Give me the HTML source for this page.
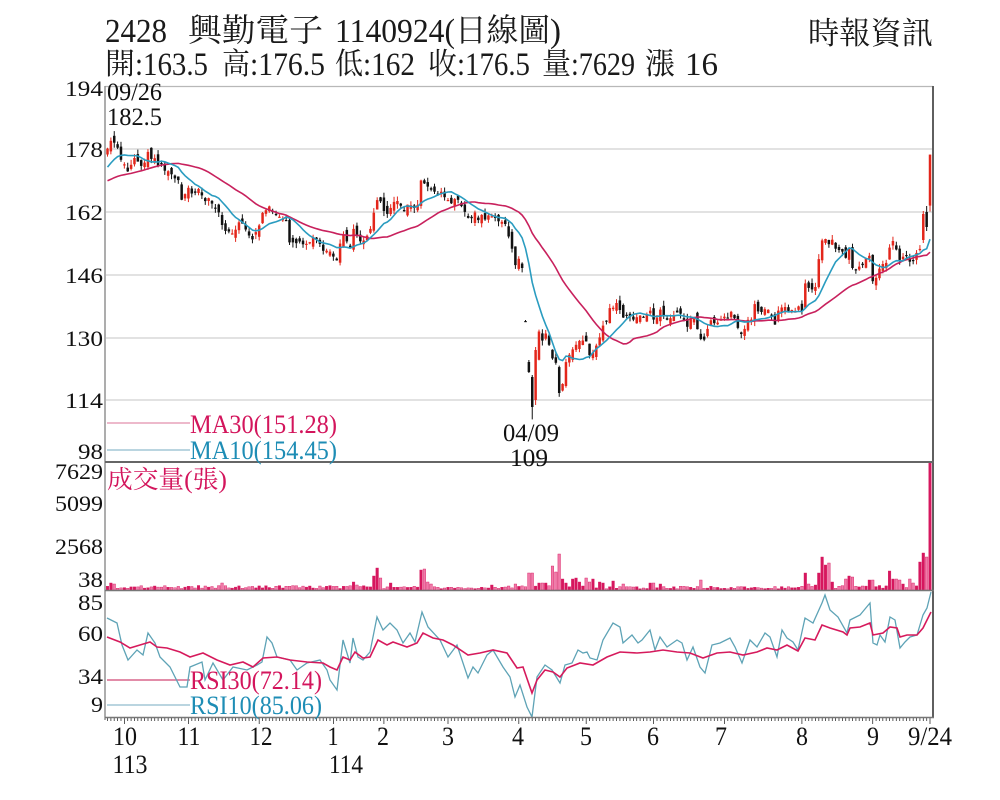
<!DOCTYPE html>
<html>
<head>
<meta charset="utf-8">
<style>
html,body{margin:0;padding:0;background:#fff;}
svg{display:block;}
text{font-family:"Liberation Serif","Noto Serif CJK SC","Noto Sans CJK TC",serif;white-space:pre;}
.cjk{font-family:"Noto Serif CJK SC","Noto Sans CJK TC",serif;}
</style>
</head>
<body>
<svg id="c" width="1000" height="800" viewBox="0 0 1000 800" xmlns="http://www.w3.org/2000/svg">
<rect width="1000" height="800" fill="#fff"/>

<!-- header -->
<g fill="#1a1a1a">
<text x="105" y="42" font-size="34" textLength="62" lengthAdjust="spacingAndGlyphs">2428</text>
<text class="cjk" x="188" y="41" font-size="32" textLength="135" lengthAdjust="spacingAndGlyphs">興勤電子</text>
<text x="335" y="42" font-size="34" textLength="120" lengthAdjust="spacingAndGlyphs">1140924(</text>
<text class="cjk" x="455" y="41" font-size="32" textLength="95" lengthAdjust="spacingAndGlyphs">日線圖</text>
<text x="550" y="42" font-size="34" textLength="11" lengthAdjust="spacingAndGlyphs">)</text>

<text class="cjk" x="105" y="74" font-size="30" textLength="30" lengthAdjust="spacingAndGlyphs">開</text>
<text x="135" y="75" font-size="33" textLength="73" lengthAdjust="spacingAndGlyphs">:163.5</text>
<text class="cjk" x="222" y="74" font-size="30" textLength="28" lengthAdjust="spacingAndGlyphs">高</text>
<text x="250" y="75" font-size="33" textLength="75" lengthAdjust="spacingAndGlyphs">:176.5</text>
<text class="cjk" x="335" y="74" font-size="30" textLength="28" lengthAdjust="spacingAndGlyphs">低</text>
<text x="363" y="75" font-size="33" textLength="52" lengthAdjust="spacingAndGlyphs">:162</text>
<text class="cjk" x="428" y="74" font-size="30" textLength="29" lengthAdjust="spacingAndGlyphs">收</text>
<text x="457" y="75" font-size="33" textLength="73" lengthAdjust="spacingAndGlyphs">:176.5</text>
<text class="cjk" x="542" y="74" font-size="30" textLength="29" lengthAdjust="spacingAndGlyphs">量</text>
<text x="571" y="75" font-size="33" textLength="64" lengthAdjust="spacingAndGlyphs">:7629</text>
<text class="cjk" x="645" y="74" font-size="30" textLength="30" lengthAdjust="spacingAndGlyphs">漲</text>
<text x="685" y="75" font-size="33" textLength="33" lengthAdjust="spacingAndGlyphs">16</text>

<text class="cjk" x="808" y="44" font-size="31" textLength="125" lengthAdjust="spacingAndGlyphs">時報資訊</text>
</g>

<!-- price grid -->
<g stroke="#d0d0d0" stroke-width="1.3">
<line x1="105" y1="86.5" x2="933" y2="86.5" stroke="#b8b8b8"/>
<line x1="106" y1="149" x2="932" y2="149"/>
<line x1="106" y1="212" x2="932" y2="212"/>
<line x1="106" y1="275" x2="932" y2="275"/>
<line x1="106" y1="338" x2="932" y2="338"/>
<line x1="106" y1="400" x2="932" y2="400"/>
</g>

<!-- legend lines -->
<line x1="107" y1="423" x2="190" y2="423" stroke="#e7a2ba" stroke-width="1.6"/>
<line x1="107" y1="450" x2="190" y2="450" stroke="#a3c7d5" stroke-width="1.6"/>
<line x1="107" y1="680" x2="190" y2="680" stroke="#d9668c" stroke-width="1.6"/>
<line x1="107" y1="705" x2="190" y2="705" stroke="#a3c7d5" stroke-width="1.6"/>

<g id="vol"></g>
<g id="rsi"></g>
<g id="cand"></g>
<g id="ma"></g>
<g id="ticks"></g>

<!-- frame -->
<line x1="105" y1="86" x2="105" y2="720" stroke="#8a8a8a" stroke-width="1.4"/>
<line x1="933" y1="86" x2="933" y2="718" stroke="#5f5f5f" stroke-width="2"/>
<line x1="105" y1="462" x2="934" y2="462" stroke="#666" stroke-width="2"/>
<line x1="105" y1="590.5" x2="934" y2="590.5" stroke="#777" stroke-width="1.5"/>
<line x1="105" y1="717.5" x2="934" y2="717.5" stroke="#777" stroke-width="1.5"/>

<!-- legend texts -->
<text x="190" y="433" font-size="26" fill="#d3155c" textLength="147" lengthAdjust="spacingAndGlyphs">MA30(151.28)</text>
<text x="190" y="459" font-size="26" fill="#1e8db5" textLength="147" lengthAdjust="spacingAndGlyphs">MA10(154.45)</text>
<text x="107" y="488" font-size="25" fill="#d3155c" textLength="120" lengthAdjust="spacingAndGlyphs">成交量(張)</text>
<text x="190" y="689" font-size="26" fill="#d3155c" textLength="132" lengthAdjust="spacingAndGlyphs">RSI30(72.14)</text>
<text x="190" y="714" font-size="26" fill="#1e8db5" textLength="132" lengthAdjust="spacingAndGlyphs">RSI10(85.06)</text>

<!-- y axis labels -->
<g fill="#111" font-size="22" text-anchor="end">
<text x="103" y="96" textLength="38" lengthAdjust="spacingAndGlyphs">194</text>
<text x="103" y="157" textLength="38" lengthAdjust="spacingAndGlyphs">178</text>
<text x="103" y="220" textLength="38" lengthAdjust="spacingAndGlyphs">162</text>
<text x="103" y="283" textLength="38" lengthAdjust="spacingAndGlyphs">146</text>
<text x="103" y="346" textLength="38" lengthAdjust="spacingAndGlyphs">130</text>
<text x="103" y="408" textLength="38" lengthAdjust="spacingAndGlyphs">114</text>
<text x="103" y="459" textLength="25" lengthAdjust="spacingAndGlyphs">98</text>
<text x="103" y="479" textLength="48" lengthAdjust="spacingAndGlyphs">7629</text>
<text x="103" y="511" textLength="48" lengthAdjust="spacingAndGlyphs">5099</text>
<text x="103" y="554" textLength="48" lengthAdjust="spacingAndGlyphs">2568</text>
<text x="103" y="587" textLength="25" lengthAdjust="spacingAndGlyphs">38</text>
<text x="103" y="610" textLength="25" lengthAdjust="spacingAndGlyphs">85</text>
<text x="103" y="641" textLength="25" lengthAdjust="spacingAndGlyphs">60</text>
<text x="103" y="684" textLength="25" lengthAdjust="spacingAndGlyphs">34</text>
<text x="103" y="712" textLength="12" lengthAdjust="spacingAndGlyphs">9</text>
</g>

<!-- x axis labels -->
<g fill="#111" font-size="26" text-anchor="middle">
<text x="125" y="745" textLength="24" lengthAdjust="spacingAndGlyphs">10</text>
<text x="189" y="745" textLength="23" lengthAdjust="spacingAndGlyphs">11</text>
<text x="261" y="745" textLength="23" lengthAdjust="spacingAndGlyphs">12</text>
<text x="333" y="745" textLength="11" lengthAdjust="spacingAndGlyphs">1</text>
<text x="383" y="745" textLength="12" lengthAdjust="spacingAndGlyphs">2</text>
<text x="448" y="745" textLength="12" lengthAdjust="spacingAndGlyphs">3</text>
<text x="518" y="745" textLength="12" lengthAdjust="spacingAndGlyphs">4</text>
<text x="586" y="745" textLength="12" lengthAdjust="spacingAndGlyphs">5</text>
<text x="653" y="745" textLength="12" lengthAdjust="spacingAndGlyphs">6</text>
<text x="721" y="745" textLength="12" lengthAdjust="spacingAndGlyphs">7</text>
<text x="802" y="745" textLength="12" lengthAdjust="spacingAndGlyphs">8</text>
<text x="873" y="745" textLength="12" lengthAdjust="spacingAndGlyphs">9</text>
<text x="930" y="745" textLength="44" lengthAdjust="spacingAndGlyphs">9/24</text>
<text x="130" y="773" textLength="35" lengthAdjust="spacingAndGlyphs">113</text>
<text x="346" y="773" textLength="34" lengthAdjust="spacingAndGlyphs">114</text>
</g>

<!-- annotations -->
<g fill="#111" font-size="25">
<text x="107" y="100" textLength="55" lengthAdjust="spacingAndGlyphs">09/26</text>
<text x="107" y="125" textLength="55" lengthAdjust="spacingAndGlyphs">182.5</text>
<text x="531" y="441" text-anchor="middle" textLength="56" lengthAdjust="spacingAndGlyphs">04/09</text>
<text x="529" y="466" text-anchor="middle" textLength="38" lengthAdjust="spacingAndGlyphs">109</text>
</g>
</svg>

<script>
(function(){
var NS="http://www.w3.org/2000/svg";
var N=245;
function X(i){return 107.5+i*3.371;}
function PY(p){return 86+(194-p)*3.922;}
function YP(y){return 194-(y-86)/3.922;}
function el(tag,attrs,parent){var e=document.createElementNS(NS,tag);for(var k in attrs)e.setAttribute(k,attrs[k]);parent.appendChild(e);return e;}
var s=246813579;
function R(){s^=s<<13;s^=s>>>17;s^=s<<5;return ((s>>>0)%100000)/100000;}
function interp(arr,x){
  if(x<=arr[0][0])return arr[0][1];
  for(var k=1;k<arr.length;k++){if(x<=arr[k][0]){var a=arr[k-1],b=arr[k];return a[1]+(b[1]-a[1])*(x-a[0])/(b[0]-a[0]);}}
  return arr[arr.length-1][1];
}
var K=[[107,150],[111,140],[114,142],[117,145],[121,160],[124,162],[127,170],[130,168],[134,158],[137,162],[141,168],[144,165],[148,152],[152,160],[155,158],[158,165],[162,165],[166,172],[170,172],[174,180],[178,180],[182,200],[185,195],[189,188],[193,195],[197,190],[201,192],[205,200],[208,198],[212,203],[218,210],[222,225],[226,232],[230,233],[233,234],[237,225],[242,222],[246,230],[250,237],[253,240],[257,228],[260,225],[263,213],[267,210],[270,203],[274,218],[278,215],[282,220],[286,220],[290,245],[294,242],[298,244],[302,242],[306,244],[310,240],[314,236],[318,240],[322,250],[326,252],[330,250],[334,258],[338,260],[342,232],[346,240],[350,248],[354,226],[358,240],[362,242],[366,238],[370,232],[374,210],[378,198],[381,200],[384,212],[388,214],[392,205],[396,200],[400,206],[404,212],[408,205],[413,205],[417,210],[420,180],[425,183],[430,192],[434,190],[438,195],[442,193],[446,198],[450,205],[454,198],[458,200],[462,205],[466,215],[470,220],[474,212],[478,220],[482,215],[486,220],[490,213],[494,218],[498,220],[502,222],[506,225],[509,240],[512,250],[515,265],[519,260],[522,265],[525.5,321],[529,372],[532,407],[536,350],[539,330],[542,340],[546,333],[549,343],[552,357],[556,365],[559,395],[563,382],[566,360],[570,352],[574,350],[578,340],[582,345],[585,335],[589,358],[593,352],[597,345],[600,335],[603,327],[607,322],[610,305],[614,310],[617,303],[620,312],[624,318],[628,315],[632,320],[636,318],[640,314],[644,318],[648,316],[651,308],[655,325],[659,308],[663,315],[667,318],[671,318],[675,312],[679,310],[683,315],[687,328],[691,318],[695,316],[699,335],[703,345],[707,330],[711,320],[715,322],[719,320],[723,316],[727,318],[731,312],[735,318],[739,330],[743,335],[747,322],[751,320],[755,305],[759,315],[763,312],[767,310],[771,315],[775,325],[779,308],[783,305],[787,310],[791,308],[795,310],[798,305],[802,310],[805,285],[809,290],[812,288],[815,290],[818,262],[822,240],[825,238],[829,245],[832,240],[836,248],[840,250],[843,252],[846,260],[850,245],[853,272],[857,270],[860,268],[864,262],[867,258],[870,254],[873,282],[877,278],[880,268],[884,265],[887,262],[890,243],[894,242],[898,255],[901,262],[905,255],[908,258],[912,262],[916,255],[920,247],[923,214],[927,226],[930.4,154.6]];
var C=[],O=[],H=[],L=[];
for(var i=0;i<N;i++){C.push(YP(interp(K,X(i)))+(R()-0.5)*1.0);}
for(var i=0;i<N;i++){
  var o=i?C[i-1]+(R()-0.5)*2.6:C[0]-1.5;
  O.push(o);
  H.push(Math.max(o,C[i])+R()*1.3);
  L.push(Math.min(o,C[i])-R()*1.3);
}
function setc(i,o,h,l,c){O[i]=o;H[i]=h;L[i]=l;C[i]=c;}
H[2]=182.5;
setc(124,YP(321),YP(320),YP(322),YP(321.5));
setc(125,YP(362),YP(360),YP(373),YP(372));
setc(126,YP(377),YP(375),109,YP(407));
setc(127,YP(400),YP(347),YP(405),YP(350));
setc(242,YP(240),YP(211),YP(243),YP(214));
setc(243,YP(212),YP(206),YP(231),YP(227));
setc(244,163.5,176.5,162,176.5);

var cg=document.getElementById('cand');
for(var i=0;i<N;i++){
  var x=X(i),up=C[i]>=O[i],col=up?'#e3261b':'#111';
  el('line',{x1:x,y1:PY(H[i]).toFixed(1),x2:x,y2:PY(L[i]).toFixed(1),stroke:col,'stroke-width':1},cg);
  var y1=PY(Math.max(O[i],C[i])),y2=PY(Math.min(O[i],C[i]));
  var hh=Math.max(1.2,y2-y1);
  el('rect',{x:(x-1.25).toFixed(2),y:y1.toFixed(1),width:2.5,height:hh.toFixed(1),fill:col},cg);
}
// MAs
var pre=[];
for(var k=0;k<30;k++){pre.push(k<20?168+(R()-0.5)*2:168+(k-19)*0.8);}
var all=pre.concat(C);
function ma(n){var pts=[];for(var i=0;i<N;i++){var t=0;for(var k=0;k<n;k++)t+=all[i+30-k];pts.push(X(i).toFixed(1)+','+PY(t/n).toFixed(1));}return pts.join(' ');}
var mg=document.getElementById('ma');
el('polyline',{points:ma(30),fill:'none',stroke:'#c8215d','stroke-width':1.6},mg);
el('polyline',{points:ma(10),fill:'none',stroke:'#2a9cc0','stroke-width':1.6},mg);

// volume
var VS=[[110,7],[113,6],[222,7],[353,8],[357,5],[373,14],[377,22],[381,12],[390,7],[420,20],[424,21],[427,8],[431,6],[492,5],[515,6],[528,17],[532,17],[539,7],[542,7],[546,7],[552,24],[556,18],[559,36],[563,11],[566,7],[573,11],[576,12],[579,8],[586,12],[589,8],[593,11],[600,8],[603,7],[613,9],[623,6],[650,7],[653,7],[660,6],[701,10],[805,17],[808,6],[815,5],[819,17],[822,33],[826,25],[829,27],[833,8],[846,11],[849,14],[853,13],[869,10],[873,10],[890,19],[893,11],[897,11],[900,10],[904,6],[910,11],[913,7],[920,28],[923,37],[927,33]];
var vg=document.getElementById('vol');
for(var i=0;i<N;i++){
  var x=X(i),h=1.5+R()*3;
  if(x>430&&x<500)h=1+R()*2.2;
  if(x>600&&x<800)h=1.2+R()*2.6;
  for(var k=0;k<VS.length;k++){if(Math.abs(VS[k][0]-x)<1.75){h=VS[k][1];break;}}
  if(i==N-1)h=127;
  var up=C[i]>=O[i];
  el('rect',{x:(x-1.3).toFixed(2),y:(590-h).toFixed(1),width:2.6,height:h.toFixed(1),fill:up?'#d6175e':'#f07aa9',stroke:'#d6175e','stroke-width':0.4},vg);
}
// RSI
var B=[[107,618],[117,623],[122,645],[128,660],[137,650],[143,655],[148,633],[155,643],[160,657],[170,667],[180,687],[187,687],[190,667],[202,662],[205,680],[213,663],[223,680],[233,667],[247,670],[257,665],[262,662],[267,637],[272,643],[277,657],[290,660],[297,670],[307,663],[320,660],[327,670],[330,680],[337,690],[343,640],[350,663],[353,638],[358,657],[363,660],[370,652],[377,617],[383,630],[390,623],[397,630],[403,643],[410,633],[415,642],[422,612],[428,627],[440,640],[448,657],[457,645],[468,678],[473,667],[478,673],[487,655],[493,650],[503,667],[510,677],[515,697],[520,685],[527,707],[532,717],[537,677],[545,665],[552,670],[560,683],[565,665],[572,663],[578,650],[583,653],[587,652],[590,658],[597,660],[603,640],[613,623],[620,627],[623,643],[632,635],[638,643],[642,640],[650,630],[655,650],[660,637],[667,647],[677,640],[682,643],[687,660],[693,647],[700,667],[705,673],[712,645],[720,643],[730,638],[735,647],[742,663],[750,640],[757,647],[765,633],[770,637],[777,657],[782,630],[787,638],[793,642],[798,650],[805,618],[813,623],[822,603],[825,595],[830,610],[838,617],[847,633],[850,620],[860,615],[870,603],[873,643],[877,645],[880,635],[885,642],[890,617],[895,620],[900,648],[905,642],[910,637],[917,635],[923,615],[927,608],[931,592]];
var Rd=[[107,637],[120,642],[130,648],[140,645],[150,642],[157,647],[167,648],[180,652],[190,657],[203,653],[217,660],[230,665],[243,662],[253,667],[263,658],[277,657],[290,660],[307,662],[323,663],[330,667],[337,670],[343,657],[350,660],[355,652],[363,658],[370,657],[378,640],[387,645],[393,642],[407,647],[417,643],[423,633],[433,638],[443,640],[453,645],[468,655],[480,653],[493,650],[507,653],[517,668],[523,667],[532,693],[537,680],[545,670],[553,672],[560,677],[567,668],[580,663],[593,665],[607,657],[620,652],[637,653],[650,652],[663,650],[677,652],[690,653],[703,658],[717,653],[730,652],[743,655],[757,652],[767,648],[777,650],[787,645],[798,651],[805,638],[815,640],[822,625],[830,628],[843,632],[847,635],[850,628],[860,627],[870,623],[873,635],[883,633],[890,627],[897,628],[900,637],[907,635],[917,635],[923,628],[931,612]];
function pts(a){return a.map(function(p){return p[0]+','+p[1];}).join(' ');}
var rg=document.getElementById('rsi');
el('polyline',{points:pts(B),fill:'none',stroke:'#5ea3b6','stroke-width':1.3},rg);
el('polyline',{points:pts(Rd),fill:'none',stroke:'#d61a5c','stroke-width':1.6},rg);
// ticks
var tg=document.getElementById('ticks');
var MT={5:1,24:1,45:1,67:1,82:1,101:1,122:1,142:1,162:1,183:1,206:1,227:1,244:1};
for(var i=0;i<N;i++){
  el('line',{x1:X(i).toFixed(1),y1:718,x2:X(i).toFixed(1),y2:MT[i]?724:721,stroke:'#333','stroke-width':0.8},tg);
}
})();
</script>
</body>
</html>
